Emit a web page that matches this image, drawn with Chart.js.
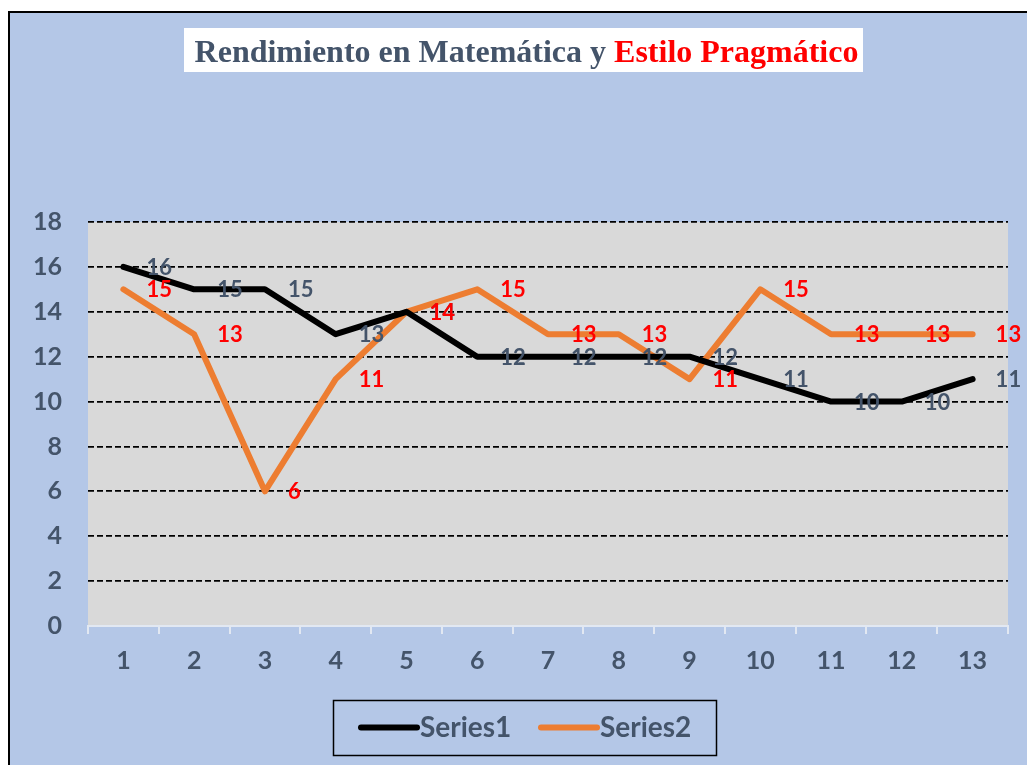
<!DOCTYPE html>
<html>
<head>
<meta charset="utf-8">
<script src="https://cdn.jsdelivr.net/npm/chart.js@4.4.0/dist/chart.umd.min.js"></script>
<style>
  html, body { margin: 0; padding: 0; background: #ffffff; overflow: hidden; }
  #frame { position: absolute; left: 8px; top: 11px; width: 1100px; height: 820px;
           border: 2px solid #000; background: #B4C7E7; }
  #c { position: absolute; left: 0; top: 0; }
</style>
</head>
<body>
<div id="frame"></div>
<canvas id="c" width="1027" height="765"></canvas>
<script>
// ---- data ----
const categories = ['1','2','3','4','5','6','7','8','9','10','11','12','13'];
const series1 = [16, 15, 15, 13, 14, 12, 12, 12, 12, 11, 10, 10, 11];
const series2 = [15, 13, 6, 11, 14, 15, 13, 13, 11, 15, 13, 13, 13];
const seriesNames = ['Series1', 'Series2'];
const titleParts = ['Rendimiento en Matemática y ', 'Estilo Pragmático'];
const yMin = 0, yMax = 18, yStep = 2;

// ---- styles ----
const slate = '#44546A';
const lineColors = ['#000000', '#ED7D31'];
const labelColors = [slate, '#FF0000'];

const plotBg = {
  id: 'plotBg',
  beforeDraw(chart) {
    const a = chart.chartArea, ctx = chart.ctx;
    ctx.save();
    ctx.fillStyle = '#D9D9D9';
    ctx.fillRect(a.left, a.top, a.right - a.left, a.bottom - a.top);
    ctx.restore();
  }
};

const titleBox = {
  id: 'titleBox',
  afterDraw(chart) {
    const ctx = chart.ctx;
    ctx.save();
    ctx.fillStyle = '#FFFFFF';
    ctx.fillRect(184, 28, 679, 44);
    ctx.font = 'bold 32px "Liberation Serif", "Times New Roman", serif';
    ctx.textBaseline = 'alphabetic';
    ctx.textAlign = 'left';
    const w0 = ctx.measureText(titleParts[0]).width;
    const w1 = ctx.measureText(titleParts[1]).width;
    let x = 526.5 - (w0 + w1) / 2;
    ctx.fillStyle = slate;
    ctx.fillText(titleParts[0], x, 62);
    ctx.fillStyle = '#FF0000';
    ctx.fillText(titleParts[1], x + w0, 62);
    ctx.restore();
  }
};

const valueLabels = {
  id: 'valueLabels',
  afterDatasetsDraw(chart) {
    const ctx = chart.ctx;
    ctx.save();
    ctx.font = 'bold 22px Lato, sans-serif';
    ctx.textAlign = 'left';
    ctx.textBaseline = 'middle';
    chart.data.datasets.forEach((ds, i) => {
      const meta = chart.getDatasetMeta(i);
      ctx.fillStyle = labelColors[i];
      meta.data.forEach((pt, j) => {
        ctx.fillText(String(ds.data[j]), pt.x + 23, pt.y + 1);
      });
    });
    ctx.restore();
  }
};

const boxLegend = {
  id: 'boxLegend',
  afterDraw(chart) {
    const ctx = chart.ctx;
    ctx.save();
    ctx.strokeStyle = '#000';
    ctx.lineWidth = 1.5;
    ctx.strokeRect(333.5, 700.5, 383, 55);
    ctx.font = 'bold 28px Lato, sans-serif';
    ctx.textBaseline = 'middle';
    ctx.textAlign = 'left';
    const cy = 727.5;
    const xs = [361, 541];
    chart.data.datasets.forEach((ds, i) => {
      const x = xs[i];
      ctx.strokeStyle = ds.borderColor;
      ctx.lineWidth = 6;
      ctx.lineCap = 'round';
      ctx.beginPath();
      ctx.moveTo(x, cy);
      ctx.lineTo(x + 56, cy);
      ctx.stroke();
      ctx.fillStyle = slate;
      ctx.fillText(ds.label, x + 59, cy);
    });
    ctx.restore();
  }
};

new Chart(document.getElementById('c'), {
  type: 'line',
  data: {
    labels: categories,
    datasets: [
      { label: seriesNames[0], data: series1, borderColor: lineColors[0], backgroundColor: lineColors[0],
        borderWidth: 6, pointRadius: 0, tension: 0, borderJoinStyle: 'round', borderCapStyle: 'round' },
      { label: seriesNames[1], data: series2, borderColor: lineColors[1], backgroundColor: lineColors[1],
        borderWidth: 6, pointRadius: 0, tension: 0, borderJoinStyle: 'round', borderCapStyle: 'round' }
    ]
  },
  options: {
    responsive: false,
    animation: false,
    devicePixelRatio: 1,
    layout: { padding: { left: 0, right: 19, top: 222, bottom: 0 } },
    plugins: { legend: { display: false }, title: { display: false }, tooltip: { enabled: false } },
    scales: {
      x: {
        offset: true,
        grid: { display: true, drawOnChartArea: false, drawTicks: true, tickLength: 8,
                color: '#E2E8F2', lineWidth: 2, offset: true },
        border: { display: true, color: '#E2E8F2', width: 2 },
        ticks: { color: slate, padding: 12, font: { family: 'Lato', size: 25, weight: 'bold' } },
        afterFit(scale) { scale.height = 139; }
      },
      y: {
        min: yMin, max: yMax,
        ticks: { stepSize: yStep, color: slate, padding: 26, font: { family: 'Lato', size: 25, weight: 'bold' } },
        grid: { drawTicks: false, lineWidth: 1.8,
                color: (c) => (c.tick && c.tick.value === 0) ? 'rgba(0,0,0,0)' : '#000000' },
        border: { display: false, dash: [6, 3] },
        afterFit(scale) { scale.width = 88; }
      }
    }
  },
  plugins: [plotBg, valueLabels, titleBox, boxLegend]
});
</script>
</body>
</html>
